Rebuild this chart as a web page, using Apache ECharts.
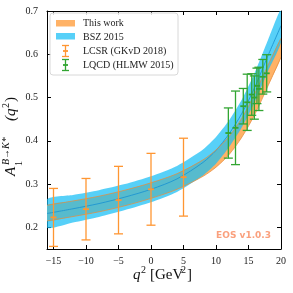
<!DOCTYPE html>
<html><head><meta charset="utf-8">
<script src="https://cdn.jsdelivr.net/npm/echarts@6/dist/echarts.min.js"></script>
<style>html,body{margin:0;padding:0;background:#fff}#main{width:293px;height:293px}</style>
</head><body><div id="main"></div>
<script>
// ---- data ----
const q2Grid      = [-16, -12, -8, -4, 0, 4, 8, 10, 12, 14, 16, 18, 20];
const bszCentral  = [0.232, 0.243, 0.255, 0.270, 0.288, 0.312, 0.350, 0.378, 0.416, 0.464, 0.525, 0.597, 0.666];
const bszError    = [0.033, 0.032, 0.031, 0.030, 0.030, 0.030, 0.030, 0.031, 0.031, 0.032, 0.034, 0.036, 0.038];
const thisCentral = [0.233, 0.243, 0.254, 0.268, 0.285, 0.306, 0.337, 0.359, 0.389, 0.431, 0.486, 0.551, 0.615];
const thisError   = [0.018, 0.018, 0.018, 0.018, 0.018, 0.018, 0.019, 0.020, 0.021, 0.022, 0.024, 0.024, 0.022];

const lcsrQ2    = [-15, -10, -5, 0, 5];
const lcsrValue = [0.223, 0.242, 0.263, 0.288, 0.316];
const lcsrError = [0.067, 0.071, 0.078, 0.083, 0.090];

const lqcdQ2    = [11.9, 13.0, 14.2, 14.8, 15.5, 15.9, 16.3, 16.6, 17.2, 17.8];
const lqcdValue = [0.418, 0.430, 0.480, 0.489, 0.507, 0.500, 0.527, 0.520, 0.548, 0.556];
const lqcdError = [0.058, 0.085, 0.041, 0.065, 0.048, 0.050, 0.041, 0.050, 0.040, 0.043];

const xTicks = [-15, -10, -5, 0, 5, 10, 15, 20];
const yTicks = [0.2, 0.3, 0.4, 0.5, 0.6, 0.7];

// ---- styles ----
const SERIF = '"Liberation Serif", "DejaVu Serif", serif';
const ORANGE_FILL = 'rgb(255,178,102)';
const BLUE_FILL = 'rgba(22,190,245,0.72)';
const BLUE_LINE = 'rgba(30,150,210,0.9)';
const ORANGE_EDGE = 'rgba(230,140,60,0.75)';
const LCSR_COLOR = 'rgb(255,150,50)';
const LQCD_COLOR = 'rgb(50,165,50)';

const lo = (c, e) => c.map((v, i) => v - e[i]);
const hi = (c, e) => c.map((v, i) => v + e[i]);

function bandItem(lower, upper, fill) {
  return function (params, api) {
    const up = q2Grid.map((q, i) => api.coord([q, upper[i]]));
    const dn = q2Grid.map((q, i) => api.coord([q, lower[i]])).reverse();
    return { type: 'polygon', shape: { points: up.concat(dn), smooth: 0.2 }, style: { fill: fill } };
  };
}
function lineItem(vals, color, width) {
  return function (params, api) {
    const pts = q2Grid.map((q, i) => api.coord([q, vals[i]]));
    return { type: 'polyline', shape: { points: pts, smooth: 0.3 }, style: { stroke: color, lineWidth: width, fill: null } };
  };
}
function errItem(color) {
  return function (params, api) {
    const x = api.value(0), y = api.value(1), e = api.value(2);
    const c = api.coord([x, y]), t = api.coord([x, y + e]), b = api.coord([x, y - e]);
    const cap = 4.5, mk = 3;
    const st = { stroke: color, lineWidth: 1.3 };
    return { type: 'group', children: [
      { type: 'line', shape: { x1: c[0], y1: t[1], x2: c[0], y2: b[1] }, style: st },
      { type: 'line', shape: { x1: c[0] - cap, y1: t[1], x2: c[0] + cap, y2: t[1] }, style: st },
      { type: 'line', shape: { x1: c[0] - cap, y1: b[1], x2: c[0] + cap, y2: b[1] }, style: st },
      { type: 'line', shape: { x1: c[0] - mk, y1: c[1], x2: c[0] + mk, y2: c[1] }, style: { stroke: color, lineWidth: 1.8 } }
    ]};
  };
}
const minus = v => String(v).replace('-', '\u2212');

const axisCommon = {
  type: 'value',
  axisLine: { show: true, onZero: false, lineStyle: { color: '#000', width: 1 } },
  splitLine: { show: false },
};

function legendBar(top, color) {
  const L = 61;
  const st = { stroke: color, lineWidth: 1.3 };
  return [
    { type: 'line', z: 102, shape: { x1: L + 4.5, y1: top, x2: L + 4.5, y2: top + 11 }, style: st },
    { type: 'line', z: 102, shape: { x1: L + 1, y1: top, x2: L + 8, y2: top }, style: st },
    { type: 'line', z: 102, shape: { x1: L + 1, y1: top + 11, x2: L + 8, y2: top + 11 }, style: st },
    { type: 'line', z: 102, shape: { x1: L + 2, y1: top + 5.5, x2: L + 7, y2: top + 5.5 }, style: { stroke: color, lineWidth: 1.8 } }
  ];
}

const option = {
  animation: false,
  backgroundColor: '#fff',
  grid: { left: 47, right: 12, top: 11, bottom: 44 },
  xAxis: [
    Object.assign({}, axisCommon, { min: -16, max: 20, position: 'bottom',
      axisTick: { show: true, inside: true, length: 4, lineStyle: { color: '#000' }, customValues: xTicks },
      axisLabel: { customValues: xTicks, formatter: minus, fontFamily: SERIF, fontSize: 10, color: '#222', margin: 7 } }),
    Object.assign({}, axisCommon, { min: -16, max: 20, position: 'top',
      axisTick: { show: true, inside: true, length: 4, lineStyle: { color: '#000' }, customValues: xTicks },
      axisLabel: { show: false } })
  ],
  yAxis: [
    Object.assign({}, axisCommon, { min: 0.15, max: 0.7, position: 'left',
      axisTick: { show: true, inside: true, length: 4, lineStyle: { color: '#000' }, customValues: yTicks },
      axisLabel: { customValues: yTicks, formatter: v => v.toFixed(1), fontFamily: SERIF, fontSize: 10, color: '#222', margin: 9 } }),
    Object.assign({}, axisCommon, { min: 0.15, max: 0.7, position: 'right',
      axisTick: { show: true, inside: true, length: 4, lineStyle: { color: '#000' }, customValues: yTicks },
      axisLabel: { show: false } })
  ],
  series: [
    { type: 'custom', name: 'This work', clip: true, data: [[0, 0.4]], renderItem: bandItem(lo(thisCentral, thisError), hi(thisCentral, thisError), ORANGE_FILL), z: 1 },
    { type: 'custom', name: 'BSZ 2015', clip: true, data: [[0, 0.4]], renderItem: bandItem(lo(bszCentral, bszError), hi(bszCentral, bszError), BLUE_FILL), z: 2 },
    { type: 'custom', clip: true, data: [[0, 0.4]], renderItem: lineItem(bszCentral, BLUE_LINE, 1), z: 3 },
    { type: 'custom', clip: true, data: [[0, 0.4]], renderItem: lineItem(hi(thisCentral, thisError), ORANGE_EDGE, 1), z: 4 },
    { type: 'custom', clip: true, data: [[0, 0.4]], renderItem: lineItem(lo(thisCentral, thisError), ORANGE_EDGE, 1), z: 4 },
    { type: 'custom', name: 'LCSR (GKvD 2018)', clip: true, z: 5,
      data: lcsrQ2.map((q, i) => [q, lcsrValue[i], lcsrError[i]]), renderItem: errItem(LCSR_COLOR) },
    { type: 'custom', name: 'LQCD (HLMW 2015)', clip: true, z: 6,
      data: lqcdQ2.map((q, i) => [q, lqcdValue[i], lqcdError[i]]), renderItem: errItem(LQCD_COLOR) }
  ],
  graphic: [
    // legend
    { type: 'rect', z: 100, shape: { x: 50, y: 13, width: 128, height: 62, r: 3 }, style: { fill: 'rgba(255,255,255,0.85)', stroke: '#d8d8d8', lineWidth: 1 } },
    { type: 'rect', z: 101, shape: { x: 56, y: 20, width: 19, height: 6.5 }, style: { fill: ORANGE_FILL } },
    { type: 'rect', z: 101, shape: { x: 56, y: 33, width: 19, height: 6.5 }, style: { fill: BLUE_FILL } },
    ...legendBar(45.5, LCSR_COLOR),
    ...legendBar(59.5, LQCD_COLOR),
    { type: 'text', x: 83, y: 23, z: 101, style: { text: 'This work', font: '10px ' + SERIF, fill: '#222', verticalAlign: 'middle' } },
    { type: 'text', x: 83, y: 37, z: 101, style: { text: 'BSZ 2015', font: '10px ' + SERIF, fill: '#222', verticalAlign: 'middle' } },
    { type: 'text', x: 83, y: 51, z: 101, style: { text: 'LCSR (GKvD 2018)', font: '10px ' + SERIF, fill: '#222', verticalAlign: 'middle' } },
    { type: 'text', x: 83, y: 65, z: 101, style: { text: 'LQCD (HLMW 2015)', font: '10px ' + SERIF, fill: '#222', verticalAlign: 'middle' } },
    // watermark
    { type: 'text', x: 271, y: 236, z: 101, style: { text: 'EOS v1.0.3', font: 'bold 9px "DejaVu Sans", sans-serif', fill: 'rgb(250,160,125)', align: 'right', verticalAlign: 'middle' } },
    // x-axis title
    { type: 'group', x: 133, y: 283, children: [
      { type: 'text', z: 101, x: 0, y: 0, style: { text: 'q', font: 'italic 15px ' + SERIF, fill: '#111', verticalAlign: 'bottom' } },
      { type: 'text', z: 101, x: 8, y: -8, style: { text: '2', font: '10px ' + SERIF, fill: '#111', verticalAlign: 'bottom' } },
      { type: 'text', z: 101, x: 17, y: 0, style: { text: '[GeV', font: '15px ' + SERIF, fill: '#111', verticalAlign: 'bottom' } },
      { type: 'text', z: 101, x: 48, y: -8, style: { text: '2', font: '10px ' + SERIF, fill: '#111', verticalAlign: 'bottom' } },
      { type: 'text', z: 101, x: 54, y: 0, style: { text: ']', font: '15px ' + SERIF, fill: '#111', verticalAlign: 'bottom' } } ] },
    // y-axis title (rotated)
    { type: 'group', x: 19, y: 176, rotation: Math.PI / 2, children: [
      { type: 'text', z: 101, x: 0, y: 0, style: { text: 'A', font: 'italic 15px ' + SERIF, fill: '#111', verticalAlign: 'bottom' } },
      { type: 'text', z: 101, x: 10, y: 5, style: { text: '1', font: '10px ' + SERIF, fill: '#111', verticalAlign: 'bottom' } },
      { type: 'text', z: 101, x: 11, y: -8, style: { text: 'B\u2192K*', font: 'italic 10px ' + SERIF, fill: '#111', verticalAlign: 'bottom' } },
      { type: 'text', z: 101, x: 55, y: 0, style: { text: '(q', font: 'italic 15px ' + SERIF, fill: '#111', verticalAlign: 'bottom' } },
      { type: 'text', z: 101, x: 68, y: -8, style: { text: '2', font: '10px ' + SERIF, fill: '#111', verticalAlign: 'bottom' } },
      { type: 'text', z: 101, x: 74, y: 0, style: { text: ')', font: '15px ' + SERIF, fill: '#111', verticalAlign: 'bottom' } } ] }
  ]
};
const chart = echarts.init(document.getElementById('main'));
chart.setOption(option);
</script></body></html>
